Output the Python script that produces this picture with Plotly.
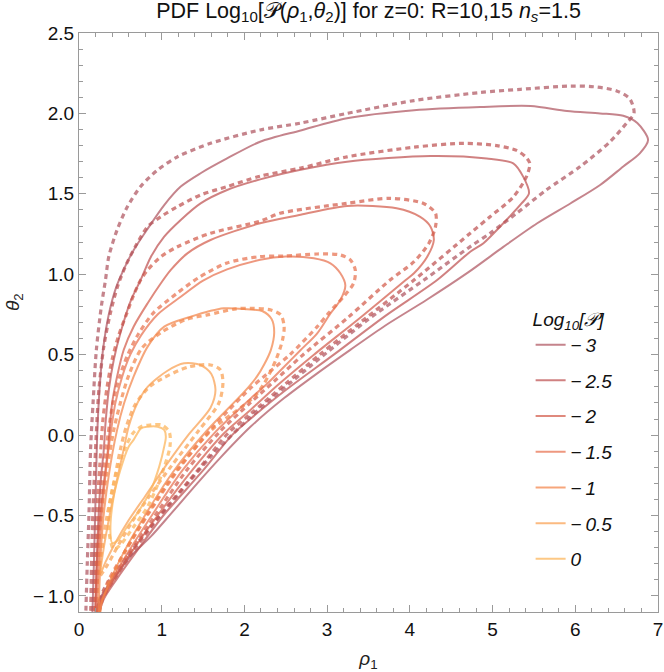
import plotly.graph_objects as go

# ---------------- data ----------------
levels = ["−3", "−2.5", "−2", "−1.5", "−1", "−0.5", "0"]

# solid contours (R=10)
s3_x = [0.16, 0.18, 0.20, 0.22, 0.25, 0.29, 0.36, 0.45, 0.55, 0.66, 0.82, 1.03, 1.23, 1.47, 1.79, 2.19, 2.68, 3.24, 4.05, 4.85, 5.46, 5.90, 6.30, 6.58, 6.75, 6.88, 6.78, 6.58, 6.30, 5.94, 5.54, 5.13, 4.70, 4.20, 3.70, 3.28, 2.88, 2.48, 2.07, 1.71, 1.43, 1.11, 0.87, 0.62, 0.45, 0.32, 0.24, 0.20]
s3_y = [-1.15, -0.80, -0.40, 0.00, 0.30, 0.53, 0.75, 0.92, 1.04, 1.15, 1.275, 1.43, 1.545, 1.628, 1.72, 1.824, 1.894, 1.97, 2.02, 2.04, 2.046, 2.015, 2.0, 1.985, 1.94, 1.835, 1.752, 1.67, 1.555, 1.44, 1.317, 1.17, 1.01, 0.84, 0.68, 0.53, 0.384, 0.23, 0.05, -0.14, -0.30, -0.49, -0.63, -0.755, -0.87, -0.96, -1.03, -1.15]

s25_x = [0.20, 0.22, 0.26, 0.30, 0.32, 0.36, 0.42, 0.50, 0.63, 0.745, 0.87, 1.03, 1.23, 1.47, 1.79, 2.19, 2.68, 3.24, 4.25, 4.93, 5.25, 5.37, 5.44, 5.35, 5.13, 4.89, 4.73, 4.33, 3.70, 3.08, 2.50, 2.07, 1.85, 1.50, 1.02, 0.70, 0.45, 0.30, 0.22]
s25_y = [-1.15, -0.70, -0.30, -0.09, 0.07, 0.28, 0.467, 0.633, 0.84, 0.964, 1.109, 1.234, 1.338, 1.441, 1.524, 1.59, 1.65, 1.70, 1.735, 1.72, 1.69, 1.607, 1.503, 1.44, 1.317, 1.193, 1.14, 0.964, 0.74, 0.50, 0.28, 0.10, 0.00, -0.22, -0.50, -0.72, -0.90, -1.02, -1.15]

s2_x = [0.20, 0.24, 0.30, 0.35, 0.37, 0.40, 0.46, 0.54, 0.66, 0.83, 0.99, 1.11, 1.31, 1.59, 2.19, 2.68, 3.24, 3.84, 4.12, 4.25, 4.29, 4.21, 4.05, 3.95, 3.40, 2.84, 2.40, 2.07, 1.75, 1.35, 0.95, 0.62, 0.40, 0.26, 0.20]
s2_y = [-1.15, -0.60, -0.30, -0.09, 0.03, 0.198, 0.363, 0.529, 0.674, 0.82, 0.944, 1.027, 1.13, 1.213, 1.317, 1.37, 1.425, 1.41, 1.358, 1.296, 1.213, 1.109, 1.006, 0.964, 0.73, 0.50, 0.31, 0.155, 0.01, -0.23, -0.50, -0.74, -0.92, -1.04, -1.15]

s15_x = [0.22, 0.26, 0.33, 0.38, 0.44, 0.52, 0.62, 0.75, 0.95, 1.23, 1.50, 1.79, 2.19, 2.50, 2.84, 3.04, 3.16, 3.22, 3.16, 3.04, 2.88, 2.68, 2.48, 2.28, 2.07, 1.65, 1.25, 0.88, 0.58, 0.38, 0.27, 0.22]
s15_y = [-1.15, -0.60, -0.20, 0.00, 0.20, 0.36, 0.50, 0.62, 0.75, 0.86, 0.96, 1.03, 1.09, 1.11, 1.099, 1.068, 1.006, 0.93, 0.84, 0.757, 0.633, 0.529, 0.425, 0.322, 0.225, 0.02, -0.22, -0.50, -0.74, -0.92, -1.04, -1.15]

s1_x = [0.24, 0.28, 0.36, 0.46, 0.545, 0.66, 0.83, 1.03, 1.35, 1.75, 2.03, 2.22, 2.33, 2.36, 2.32, 2.24, 2.15, 2.00, 1.55, 1.15, 0.82, 0.55, 0.38, 0.28, 0.24]
s1_y = [-1.15, -0.60, -0.25, 0.031, 0.198, 0.363, 0.55, 0.674, 0.736, 0.788, 0.782, 0.77, 0.72, 0.64, 0.53, 0.44, 0.363, 0.27, 0.03, -0.22, -0.48, -0.72, -0.90, -1.03, -1.15]

s05_x = [0.26, 0.30, 0.37, 0.45, 0.54, 0.60, 0.705, 0.83, 1.07, 1.27, 1.47, 1.60, 1.65, 1.59, 1.32, 1.05, 0.80, 0.60, 0.45, 0.32, 0.26]
s05_y = [-0.86, -0.70, -0.50, -0.30, -0.09, 0.052, 0.198, 0.30, 0.40, 0.446, 0.436, 0.38, 0.28, 0.17, 0.00, -0.19, -0.38, -0.53, -0.66, -0.79, -0.86]

s0_x = [0.40, 0.38, 0.42, 0.50, 0.60, 0.66, 0.75, 0.83, 0.95, 1.03, 1.05, 1.03, 0.97, 0.87, 0.705, 0.58, 0.48, 0.40]
s0_y = [-0.67, -0.59, -0.383, -0.217, -0.072, -0.03, 0.042, 0.052, 0.052, 0.032, -0.01, -0.072, -0.196, -0.34, -0.486, -0.57, -0.65, -0.67]

# dashed contours (R=15)
d3_x = [0.08, 0.10, 0.12, 0.14, 0.17, 0.21, 0.27, 0.32, 0.36, 0.46, 0.585, 0.745, 0.95, 1.19, 1.59, 2.19, 2.68, 3.24, 4.05, 4.85, 5.34, 5.94, 6.22, 6.50, 6.66, 6.71, 6.62, 6.42, 6.06, 5.65, 5.29, 4.97, 4.73, 4.17, 3.50, 2.80, 2.07, 1.60, 1.20, 0.80, 0.50, 0.30, 0.18]
d3_y = [-1.15, -0.80, -0.50, -0.09, 0.20, 0.53, 0.80, 0.964, 1.109, 1.275, 1.42, 1.545, 1.648, 1.73, 1.814, 1.897, 1.94, 2.00, 2.08, 2.13, 2.15, 2.17, 2.166, 2.14, 2.09, 2.0, 1.94, 1.824, 1.67, 1.524, 1.379, 1.255, 1.172, 0.964, 0.72, 0.43, 0.11, -0.13, -0.37, -0.61, -0.81, -0.96, -1.15]

d25_x = [0.14, 0.16, 0.20, 0.24, 0.30, 0.38, 0.47, 0.57, 0.69, 0.83, 0.99, 1.19, 1.47, 1.79, 2.19, 2.68, 3.24, 4.05, 4.65, 5.05, 5.29, 5.40, 5.45, 5.41, 5.25, 4.97, 4.73, 4.05, 3.40, 2.91, 2.50, 2.07, 1.80, 1.45, 0.98, 0.66, 0.42, 0.28, 0.20]
d25_y = [-1.15, -0.60, -0.09, 0.28, 0.55, 0.76, 0.93, 1.06, 1.18, 1.296, 1.358, 1.42, 1.493, 1.545, 1.61, 1.66, 1.73, 1.79, 1.814, 1.80, 1.77, 1.73, 1.69, 1.607, 1.48, 1.358, 1.255, 0.964, 0.70, 0.50, 0.32, 0.13, 0.01, -0.21, -0.50, -0.72, -0.90, -1.02, -1.15]

d2_x = [0.17, 0.20, 0.25, 0.29, 0.34, 0.40, 0.48, 0.58, 0.66, 0.745, 0.83, 0.99, 1.19, 1.59, 2.19, 2.43, 3.24, 3.76, 4.16, 4.31, 4.31, 4.23, 4.05, 3.76, 3.25, 2.71, 2.35, 2.07, 1.70, 1.30, 0.92, 0.60, 0.38, 0.25, 0.19]
d2_y = [-1.15, -0.60, -0.20, 0.10, 0.30, 0.47, 0.62, 0.76, 0.87, 0.964, 1.027, 1.109, 1.171, 1.255, 1.33, 1.379, 1.441, 1.472, 1.441, 1.379, 1.296, 1.193, 1.078, 0.964, 0.73, 0.50, 0.33, 0.20, 0.02, -0.22, -0.50, -0.74, -0.92, -1.04, -1.15]

d15_x = [0.19, 0.23, 0.30, 0.35, 0.41, 0.49, 0.59, 0.72, 0.90, 1.18, 1.45, 1.79, 2.19, 2.48, 2.88, 3.16, 3.28, 3.34, 3.32, 3.20, 3.02, 2.88, 2.55, 2.32, 2.07, 1.62, 1.22, 0.85, 0.56, 0.36, 0.26, 0.21]
d15_y = [-1.15, -0.60, -0.20, 0.00, 0.20, 0.36, 0.50, 0.63, 0.76, 0.88, 0.98, 1.07, 1.11, 1.113, 1.126, 1.12, 1.089, 1.027, 0.944, 0.861, 0.76, 0.674, 0.50, 0.40, 0.29, 0.05, -0.20, -0.48, -0.72, -0.90, -1.03, -1.15]

d1_x = [0.21, 0.25, 0.33, 0.42, 0.50, 0.60, 0.76, 1.00, 1.30, 1.55, 1.90, 2.11, 2.32, 2.44, 2.48, 2.46, 2.38, 2.24, 2.12, 1.60, 1.18, 0.84, 0.56, 0.38, 0.28, 0.23]
d1_y = [-1.15, -0.60, -0.25, 0.03, 0.20, 0.37, 0.54, 0.64, 0.72, 0.747, 0.785, 0.788, 0.778, 0.747, 0.674, 0.59, 0.467, 0.322, 0.239, 0.03, -0.22, -0.48, -0.72, -0.90, -1.03, -1.15]

d05_x = [0.24, 0.28, 0.34, 0.42, 0.50, 0.57, 0.68, 0.85, 1.00, 1.33, 1.59, 1.71, 1.74, 1.69, 1.45, 1.12, 0.85, 0.64, 0.48, 0.34, 0.24]
d05_y = [-0.88, -0.70, -0.50, -0.30, -0.09, 0.05, 0.19, 0.30, 0.35, 0.425, 0.436, 0.405, 0.322, 0.198, 0.03, -0.19, -0.38, -0.54, -0.68, -0.81, -0.88]

d0_x = [0.42, 0.36, 0.38, 0.45, 0.55, 0.65, 0.76, 0.87, 1.00, 1.09, 1.10, 0.99, 0.83, 0.66, 0.50, 0.42]
d0_y = [-0.71, -0.59, -0.40, -0.24, -0.09, 0.01, 0.055, 0.063, 0.063, 0.021, -0.07, -0.258, -0.445, -0.57, -0.683, -0.71]

solid_x = [s3_x, s25_x, s2_x, s15_x, s1_x, s05_x, s0_x]
solid_y = [s3_y, s25_y, s2_y, s15_y, s1_y, s05_y, s0_y]
dash_x = [d3_x, d25_x, d2_x, d15_x, d1_x, d05_x, d0_x]
dash_y = [d3_y, d25_y, d2_y, d15_y, d1_y, d05_y, d0_y]

x_ticks = [0, 1, 2, 3, 4, 5, 6, 7]
y_ticks = [-1.0, -0.5, 0.0, 0.5, 1.0, 1.5, 2.0, 2.5]

# ---------------- style ----------------
colors = [
    "rgba(175, 85, 95, 0.72)",
    "rgba(190, 80, 80, 0.72)",
    "rgba(210, 92, 75, 0.72)",
    "rgba(232, 112, 78, 0.72)",
    "rgba(242, 132, 72, 0.72)",
    "rgba(250, 160, 80, 0.72)",
    "rgba(252, 182, 92, 0.75)",
]
FONT = "Liberation Sans, Arial, sans-serif"
MINUS = "−\u2009"


def fmt_tick(v):
    s = f"{abs(v):.1f}"
    return (MINUS + s) if v < 0 else s


fig = go.Figure()
for i, lab in enumerate(levels):
    fig.add_trace(go.Scatter(
        x=dash_x[i], y=dash_y[i], mode="lines",
        line=dict(color=colors[i], width=3.2, dash="5px,4px", shape="spline", smoothing=0.8),
        showlegend=False, hoverinfo="skip", legendgroup=lab,
    ))
for i, lab in enumerate(levels):
    fig.add_trace(go.Scatter(
        x=solid_x[i], y=solid_y[i], mode="lines",
        line=dict(color=colors[i], width=2, shape="spline", smoothing=0.8),
        name="<i>" + lab.replace("−", MINUS) + "</i>", legendgroup=lab, hoverinfo="skip",
    ))

axis_common = dict(
    showgrid=False, zeroline=False, showline=True, linecolor="#9a9a9a", linewidth=1,
    mirror="allticks", ticks="inside", tickcolor="#9a9a9a", ticklen=7, tickwidth=1,
    tickfont=dict(family=FONT, size=19, color="#111"), automargin=False,
)
fig.update_layout(
    width=664, height=672,
    margin=dict(l=79, r=6, t=33, b=60),
    paper_bgcolor="white", plot_bgcolor="white",
    title=dict(
        text="PDF Log<sub>10</sub>[𝒫(<i>ρ</i><sub>1</sub>,<i>θ</i><sub>2</sub>)] for z=0: R=10,15 <i>n<sub>s</sub></i>=1.5",
        x=0.5, xref="paper", xanchor="center", y=0.985, yref="container", yanchor="middle",
        font=dict(family=FONT, size=21.5, color="#111"),
    ),
    xaxis=dict(
        range=[0, 7], tickvals=x_ticks, ticktext=[str(v) for v in x_ticks],
        minor=dict(dtick=0.2, ticks="inside", ticklen=4, tickcolor="#9a9a9a", showgrid=False),
        title=dict(text="<i>ρ</i><sub>1</sub>", font=dict(family=FONT, size=19, color="#222"), standoff=14),
        **axis_common,
    ),
    yaxis=dict(
        range=[-1.1, 2.5], tickvals=y_ticks, ticktext=[fmt_tick(v) for v in y_ticks],
        minor=dict(dtick=0.1, ticks="inside", ticklen=4, tickcolor="#9a9a9a", showgrid=False),
        **axis_common,
    ),
    annotations=[dict(
        text="<i>θ</i><sub>2</sub>", textangle=-90, showarrow=False,
        xref="paper", yref="paper", x=-0.111, y=0.535, xanchor="center", yanchor="middle",
        font=dict(family=FONT, size=19, color="#222"),
    )],
    legend=dict(
        x=0.78, y=0.537, xanchor="left", yanchor="top",
        title=dict(text="<i>Log<sub>10</sub>[𝒫]</i>", font=dict(family=FONT, size=19, color="#111")),
        font=dict(family=FONT, size=19, color="#111"),
        traceorder="grouped", tracegroupgap=8, itemwidth=30,
        bgcolor="rgba(0,0,0,0)",
    ),
)

fig.write_html(
    "out.html",
    config={"displayModeBar": False},
    post_script="document.body.style.margin='0';document.body.style.padding='0';",
)
